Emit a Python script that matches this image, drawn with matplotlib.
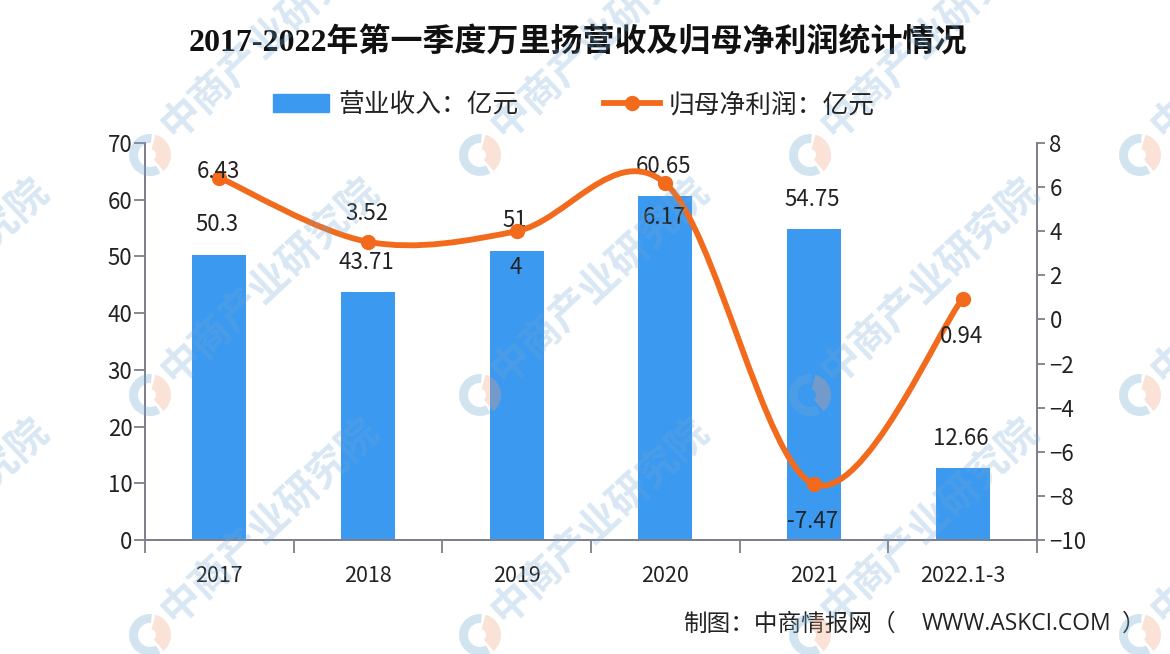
import numpy as np
import matplotlib
matplotlib.use('Agg')
import matplotlib.pyplot as plt
from matplotlib.lines import Line2D
from matplotlib.patches import Patch, PathPatch, Wedge
from matplotlib.path import Path
from matplotlib.transforms import IdentityTransform

W, H = 1170, 654

categories = ['2017', '2018', '2019', '2020', '2021', '2022.1-3']
revenue = [50.3, 43.71, 51, 60.65, 54.75, 12.66]
revenue_labels = ['50.3', '43.71', '51', '60.65', '54.75', '12.66']
profit = [6.43, 3.52, 4, 6.17, -7.47, 0.94]
profit_labels = ['6.43', '3.52', '4', '6.17', '-7.47', '0.94']
# pixel offset of each profit label from its point (positive = up)
profit_offsets = [6, 28, -36, -34, -37, -38]

left_ticks = list(range(0, 71, 10))
right_ticks = list(range(-10, 9, 2))

BLUE = '#3C99F0'
ORANGE = '#F26B1D'
AXIS = '#7F7F8C'
TEXT = '#222222'
CJK = ['Noto Sans CJK SC', 'DejaVu Sans']
TITLE = ['Liberation Serif', 'Noto Sans CJK SC']

plt.rcParams['font.family'] = CJK


def smooth_path(ys):
    # bezier through the points, same idea as a spreadsheet "smoothed line"
    xs = list(range(len(ys)))
    verts = [(xs[0], ys[0])]
    codes = [Path.MOVETO]
    for i in range(len(ys) - 1):
        y_prev = ys[max(i - 1, 0)]
        y_next = ys[min(i + 2, len(ys) - 1)]
        dx0 = (xs[i + 1] - xs[max(i - 1, 0)]) / 6
        dx1 = (xs[min(i + 2, len(ys) - 1)] - xs[i]) / 6
        verts.append((xs[i] + dx0, ys[i] + (ys[i + 1] - y_prev) / 6))
        verts.append((xs[i + 1] - dx1, ys[i + 1] - (y_next - ys[i]) / 6))
        verts.append((xs[i + 1], ys[i + 1]))
        codes += [Path.CURVE4] * 3
    return Path(verts, codes)


def add_watermarks(fig):
    tr = IdentityTransform()
    for row_y in [35, 280, 520]:
        for col_x in [-60, 270, 600, 930, 1260]:
            fig.text(col_x / W, 1 - row_y / H, '中商产业研究院', fontsize=29,
                     color='#6FA8D2', alpha=0.27, rotation=43,
                     ha='center', va='center', weight='bold', zorder=5)
    for logo_y in [155, 395, 635]:
        for logo_x in [150, 480, 810, 1140]:
            y = H - logo_y
            fig.add_artist(Wedge((logo_x, y), 21, 85, 300, width=9, transform=tr,
                                 color='#6FA8D2', alpha=0.3, lw=0, zorder=5))
            fig.add_artist(Wedge((logo_x, y), 21, -50, 75, width=15, transform=tr,
                                 color='#F0A27A', alpha=0.3, lw=0, zorder=5))


fig = plt.figure(figsize=(W / 100, H / 100), dpi=100)
ax = fig.add_axes([145 / W, 1 - 540 / H, (1037 - 145) / W, (540 - 143) / H])
ax2 = ax.twinx()

x = np.arange(len(categories))
ax.bar(x, revenue, width=0.365, color=BLUE, zorder=2)
ax.set_xlim(-0.5, 5.5)
ax.set_ylim(0, 70)
ax.set_yticks(left_ticks)
ax.set_xticks(np.arange(-0.5, 6, 1))
ax.set_xticklabels([])
ax.set_xticks(x, categories, minor=True)
ax.tick_params(axis='x', which='major', length=9, width=1.3, color=AXIS)
ax.tick_params(axis='x', which='minor', length=0, pad=18, labelsize=15.5, labelcolor=TEXT)
ax.tick_params(axis='y', length=8, width=1.3, color=AXIS, labelsize=16, labelcolor=TEXT, pad=1)

ax2.set_ylim(-10, 8)
ax2.set_yticks(right_ticks)
ax2.tick_params(axis='y', length=6, width=1.3, color=AXIS, labelsize=16, labelcolor=TEXT, pad=3)
ax2.add_patch(PathPatch(smooth_path(profit), fill=False, ec=ORANGE, lw=4.2, capstyle='round', zorder=3))
ax2.plot(x, profit, 'o', color=ORANGE, ms=10, zorder=4)

for a in (ax, ax2):
    a.spines['top'].set_visible(False)
    for s in ('left', 'right', 'bottom'):
        a.spines[s].set_color(AXIS)
        a.spines[s].set_linewidth(1.3)
    a.patch.set_visible(False)

ax2.set_zorder(ax.get_zorder() + 1)

for xi, val, lab in zip(x, revenue, revenue_labels):
    ax.annotate(lab, (xi, val), xytext=(-1.5, 21.6), textcoords='offset points',
                ha='center', va='center', fontsize=16, color=TEXT, zorder=6, annotation_clip=False)
    ax.texts[-1].set_zorder(6)
for xi, val, lab, off in zip(x, profit, profit_labels, profit_offsets):
    ax2.annotate(lab, (xi, val), xytext=(-1, off * 0.72), textcoords='offset points',
                 ha='center', va='center', fontsize=16, color=TEXT, zorder=6)

fig.text(578 / W, 1 - 43 / H, '2017-2022年第一季度万里扬营收及归母净利润统计情况',
         fontsize=23, family=TITLE, weight='bold', color='#111111', ha='center', va='center')

handles = [Patch(color=BLUE, label='营业收入：亿元'),
           Line2D([], [], color=ORANGE, lw=4.2, marker='o', ms=10, label='归母净利润：亿元')]
fig.legend(handles=handles, loc='center', bbox_to_anchor=(574 / W, 1 - 105 / H), ncol=2,
           frameon=False, fontsize=18.5, handlelength=2.2, handleheight=0.75,
           handletextpad=0.35, columnspacing=3.3, labelcolor=TEXT)

fig.text(683 / W, 1 - 624 / H, '制图：中商情报网（', fontsize=17, color=TEXT, ha='left', va='center')
fig.text(922 / W, 1 - 624 / H, 'WWW.ASKCI.COM', fontsize=16.5, color=TEXT, ha='left', va='center', family='Open Sans')
fig.text(1122 / W, 1 - 624 / H, '）', fontsize=17, color=TEXT, ha='left', va='center')

add_watermarks(fig)

fig.savefig('out.png', dpi=100)
